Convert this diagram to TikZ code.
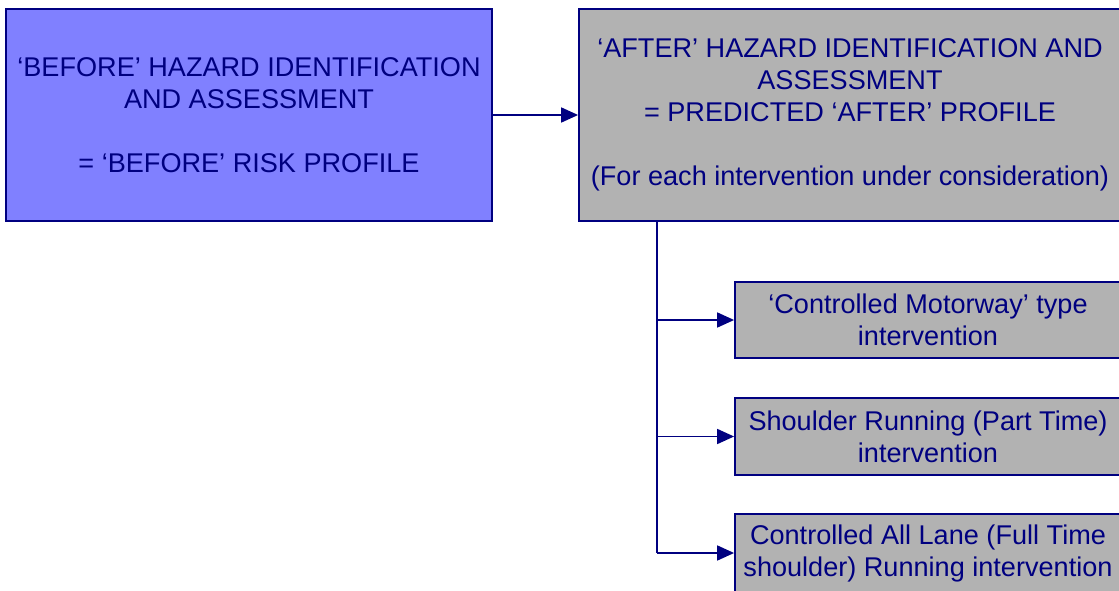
\documentclass[tikz,border=0pt]{standalone}
\usepackage{fontspec}
\setmainfont{Liberation Sans}
\usetikzlibrary{arrows.meta}
\definecolor{navy}{HTML}{000080}
\definecolor{bluefill}{HTML}{8080FF}
\definecolor{greyfill}{HTML}{B2B2B2}
\begin{document}
\begin{tikzpicture}[x=1pt,y=-1pt,
  box/.style={draw=navy, line width=1.8pt, text=navy, align=center, inner sep=0pt,
    font=\fontsize{27.1}{32}\selectfont},
  conn/.style={draw=navy, line width=1.8pt, -{Triangle[length=17pt,width=15pt]}},
  trunkline/.style={draw=navy, line width=1.8pt}]
\path[use as bounding box] (0,0) rectangle (1119,591);
\clip (0,0) rectangle (1119,591);
\node[box, fill=bluefill, minimum width=486pt, minimum height=212pt] (b1) at (249,115)
  {‘BEFORE’ HAZARD IDENTIFICATION\\AND ASSESSMENT\\ ~ \\= ‘BEFORE’ RISK PROFILE};
\node[box, fill=greyfill, minimum width=542pt, minimum height=212pt] (b2) at (850,115)
  {‘AFTER’ HAZARD IDENTIFICATION AND\\ASSESSMENT\\= PREDICTED ‘AFTER’ PROFILE\\ ~ \\(For each intervention under consideration)};
\node[box, fill=greyfill, minimum width=386pt, minimum height=76pt] (c1) at (928,320)
  {‘Controlled Motorway’ type\\intervention};
\node[box, fill=greyfill, minimum width=386pt, minimum height=77pt] (c2) at (928,436.5)
  {Shoulder Running (Part Time)\\intervention};
\node[box, fill=greyfill, minimum width=386pt, minimum height=78pt] (c3) at (928,553)
  {Controlled All Lane (Full Time\\shoulder) Running intervention};
\coordinate (trunk) at (657,0);
\draw[conn] (b1.east) -- (b2.west |- b1.east);
\draw[trunkline] (b2.south -| trunk) -- (c3.west -| trunk);
\draw[conn] (c1.west -| trunk) -- (c1.west);
\draw[conn] (c2.west -| trunk) -- (c2.west);
\draw[conn] (c3.west -| trunk) -- (c3.west);
\end{tikzpicture}
\end{document}
